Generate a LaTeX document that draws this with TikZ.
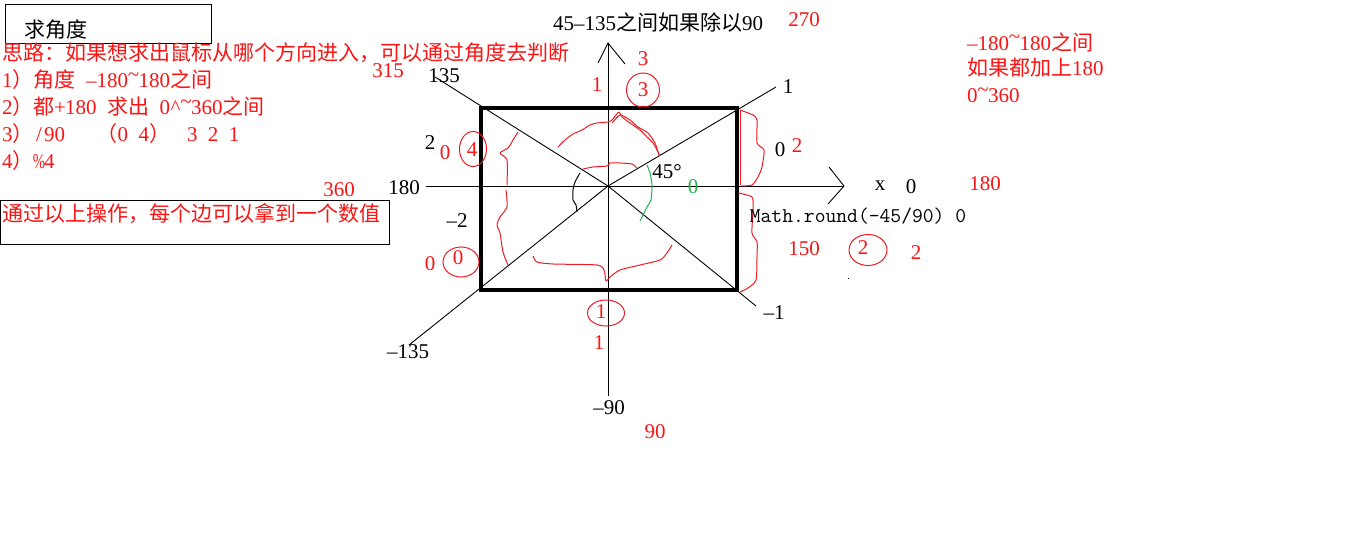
\documentclass[tikz,border=0pt]{standalone}
\usepackage{fontspec}
\usepackage{graphicx}
\setmainfont{Liberation Serif}
\newfontfamily\cjk{Noto Sans CJK SC}
\newcommand\zh[1]{{\cjk #1}}
\newcommand\hw[1]{\makebox[0.5em]{#1}}
\newcommand\hs{\hspace{0.5em}}
\newcommand\mn{\hw{\textendash}}
\newcommand\tld{\hw{\raisebox{0.3em}{\textasciitilde}}}
\newcommand\crt{\hw{\textasciicircum}}
\newcommand\pct{\hw{\scalebox{0.7}[1]{\%}}}
\definecolor{penred}{RGB}{237,28,36}
\definecolor{txtred}{RGB}{250,20,20}
\definecolor{pengreen}{RGB}{34,177,76}
\begin{document}
\begin{tikzpicture}[x=1pt,y=-1pt,
  every node/.style={inner sep=0pt,font=\fontsize{21}{25}\selectfont},
  rt/.style={text=txtred},
  bt/.style={text=black},
  gt/.style={text=pengreen},
  thin line/.style={draw=black,line width=0.9pt},
  redpen/.style={draw=penred,line width=1pt,line join=round},
  blackpen/.style={draw=black,line width=1pt,line join=round},
  greenpen/.style={draw=pengreen,line width=1pt,line join=round},
  boxline/.style={draw=black,line width=1pt},
  ring/.style={draw=penred,line width=1pt}]
\useasboundingbox (0,0) rectangle (1360,540);

% ---- text boxes (left) ----
\draw[boxline] (5.5,4.5) rectangle (211,43.5);
\node[bt,anchor=west] (title) at (24,30) {\zh{求角度}};
\node[rt,anchor=west] (l0) at (2,53) {\zh{思路：如果想求出鼠标从哪个方向进入，可以通过角度去判断}};
\node[rt,anchor=west] (l1) at (2,80) {1\zh{）角度}\hs\mn180\tld180\zh{之间}};
\node[rt,anchor=west] (l2) at (2,107) {2\zh{）都}\hw{+}180\hs\zh{求出}\hs0\crt\tld360\zh{之间}};
\node[rt,anchor=west] (l3) at (2,134) {3\zh{）}\hw{/}90\hspace{1.5em}\zh{（}0\hs4\zh{）}\hspace{0.8em}3\hs2\hs1};
\node[rt,anchor=west] (l4) at (2,161) {4\zh{）}\pct4};
\draw[boxline] (0.5,201) rectangle (389.5,245);
\node[rt,anchor=west] (sum) at (2,214) {\zh{通过以上操作，每个边可以拿到一个数值}};

% ---- axes ----
\coordinate (O) at (608,186);
\coordinate (ytop) at (608,43);
\coordinate (ybot) at (608,396);
\coordinate (xl) at (426,186);
\coordinate (xr) at (844,186);
\coordinate (ya1) at (598,63);
\coordinate (ya2) at (625,64);
\coordinate (xa1) at (829,167);
\coordinate (xa2) at (828,204);
\draw[thin line] (ybot) -- (ytop);
\draw[thin line] (ya1) -- (ytop) -- (ya2);
\draw[thin line] (xl) -- (xr);
\draw[thin line] (xa1) -- (xr) -- (xa2);

% ---- rays through the corners ----
\coordinate (r135) at (435,77);
\coordinate (r45) at (776,87);
\coordinate (rm135) at (409,345);
\coordinate (rm45) at (756,306);
\draw[thin line] (O) -- (r135);
\draw[thin line] (O) -- (r45);
\draw[thin line] (O) -- (rm135);
\draw[thin line] (O) -- (rm45);

% ---- the box ----
\draw[draw=black,line width=4.5pt] (481,108) rectangle (737,290);

% ---- freehand strokes ----
\draw[redpen] plot[smooth,tension=0.4] coordinates {(558,147) (565,140) (573,134) (582,130) (590,125) (597,123) (608,122) (612,120) (616,115) (619,112) (622,117) (630,123) (640,130) (647,137) (653,143) (657,150) (660,156)};
\draw[redpen] plot[smooth,tension=0.4] coordinates {(612,123) (620,115) (630,120) (638,127) (648,133) (655,143) (659,155)};
\draw[redpen] plot[smooth,tension=0.4] coordinates {(583,169) (593,167) (607,166) (610,163) (620,163) (632,164) (637,168)};
\draw[blackpen] plot[smooth,tension=0.4] coordinates {(580,173) (575,182) (573,190) (573,200) (576,205) (577,212)};
\draw[greenpen] plot[smooth,tension=0.4] coordinates {(647,165) (650,173) (652,185) (651,200) (647,207) (640,221)};
\draw[redpen] plot[smooth,tension=0.4] coordinates {(518,132) (513,140) (508,148) (500,153) (507,160) (507,185)};
\draw[redpen] plot[smooth,tension=0.4] coordinates {(506,190) (507,207) (500,217) (497,225) (500,233) (503,252) (508,265)};
\draw[redpen] plot[smooth,tension=0.4] coordinates {(533,256) (537,262) (553,264) (597,265) (604,270) (606,281) (610,277) (620,270) (640,265) (660,260) (667,253) (672,245)};
\draw[redpen] (740,110) -- (740,185);
\draw[redpen] plot[smooth,tension=0.4] coordinates {(740,110) (753,115) (757,120) (757,143) (764,150) (762,167) (758,177) (752,185) (742,186)};
\draw[redpen] plot[smooth,tension=0.4] coordinates {(738,193) (752,197) (753,210) (752,233) (757,242) (757,257) (756,280) (748,288) (740,292)};

% ---- rings ----
\draw[ring] (643,90) ellipse [x radius=16.5,y radius=17];
\draw[ring] (473,149) ellipse [x radius=13.5,y radius=17.5];
\draw[ring] (461,262) ellipse [x radius=18,y radius=15];
\draw[ring] (606,313) ellipse [x radius=18.5,y radius=13];
\draw[ring] (868,250) ellipse [x radius=19,y radius=15.5];
\fill[black] (847.5,277.5) rectangle (849,279);

% ---- labels ----
\node[bt] (top) at (658,23) {45\mn135\zh{之间如果除以}90};
\node[rt] (n270) at (804,20) {270};
\node[rt] (n3a) at (643,59) {3};
\node[rt] (n1a) at (597,85) {1};
\node[rt] (c3) at (643,90) {3};
\node[bt] (n1) at (788,87) {1};
\node[rt] (n315) at (388,71) {315};
\node[bt] (n135) at (444,76) {135};
\node[bt] (n2l) at (430,143) {2};
\node[rt] (n0l) at (445,153) {0};
\node[rt] (c4) at (472,150) {4};
\node[bt] (n0r) at (780,150) {0};
\node[rt] (n2r) at (797,146) {2};
\node[bt] (n180) at (404,188) {180};
\node[rt] (n360) at (339,190) {360};
\node[bt] (deg) at (667,172) {45\textdegree};
\node[gt] (g0) at (693,187) {0};
\node[bt] (nx) at (880,186) {x};
\node[bt] (nx0) at (911,187) {0};
\node[rt] (n180r) at (985,184) {180};
\node[bt] (math) at (858,216) {\ttfamily Math.round(-45/90) 0};
\node[bt] (nm2) at (457,221) {\mn2};
\node[rt] (n150) at (804,249) {150};
\node[rt] (c2) at (863,248) {2};
\node[rt] (n2b) at (916,253) {2};
\node[rt] (n0b) at (430,264) {0};
\node[rt] (c0) at (458,258) {0};
\node[bt] (nm1) at (774,313) {\mn1};
\node[rt] (c1) at (601,312) {1};
\node[rt] (n1b) at (599,343) {1};
\node[bt] (nm135) at (408,352) {\mn135};
\node[bt] (nm90) at (609,408) {\mn90};
\node[rt] (n90) at (655,432) {90};

% ---- right notes ----
\node[rt,anchor=west] (r1) at (967,42) {\mn180\tld180\zh{之间}};
\node[rt,anchor=west] (r2) at (967,68) {\zh{如果都加上}180};
\node[rt,anchor=west] (r3) at (967,95) {0\tld360};
\end{tikzpicture}
\end{document}
